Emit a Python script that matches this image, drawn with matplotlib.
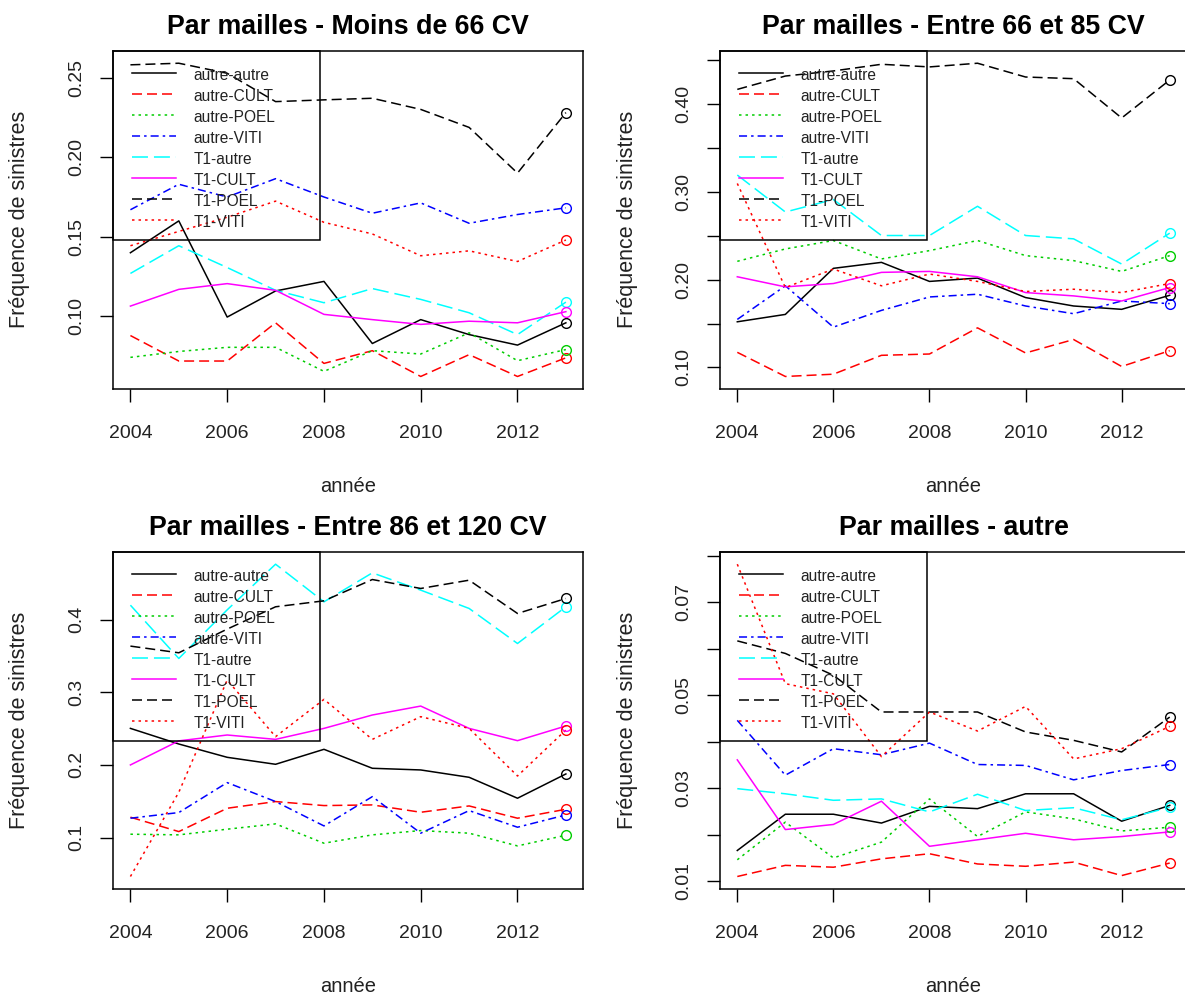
import matplotlib
matplotlib.use("Agg")
import matplotlib.pyplot as plt
from matplotlib.patches import Rectangle
import numpy as np

plt.rcParams['font.family'] = ['Liberation Sans', 'DejaVu Sans']
plt.rcParams['lines.scale_dashes'] = False

# ---------------------------------------------------------------- data
years = [2004, 2005, 2006, 2007, 2008, 2009, 2010, 2011, 2012, 2013]
year_ticks = [2004, 2006, 2008, 2010, 2012]

series_names = ["autre-autre", "autre-CULT", "autre-POEL", "autre-VITI",
                "T1-autre", "T1-CULT", "T1-POEL", "T1-VITI"]

titles = ["Par mailles - Moins de 66 CV",
          "Par mailles - Entre 66 et 85 CV",
          "Par mailles - Entre 86 et 120 CV",
          "Par mailles - autre"]

# claim frequency per year, one row per series (same order as series_names)
freq_moins_66 = [
    [0.140, 0.160, 0.0996, 0.116, 0.122, 0.083, 0.098, 0.0886, 0.082, 0.096],
    [0.088, 0.072, 0.072, 0.096, 0.0705, 0.0785, 0.0623, 0.076, 0.0623, 0.074],
    [0.0743, 0.078, 0.0806, 0.0806, 0.0655, 0.0785, 0.0764, 0.0897, 0.0722, 0.0792],
    [0.167, 0.183, 0.175, 0.1865, 0.175, 0.1648, 0.1713, 0.1585, 0.164, 0.1682],
    [0.127, 0.1444, 0.1307, 0.1164, 0.1086, 0.1175, 0.1107, 0.1023, 0.0886, 0.109],
    [0.1065, 0.117, 0.1206, 0.1164, 0.1013, 0.098, 0.095, 0.097, 0.096, 0.103],
    [0.258, 0.259, 0.2527, 0.2349, 0.236, 0.237, 0.230, 0.2187, 0.190, 0.228],
    [0.1444, 0.1534, 0.1623, 0.1724, 0.1591, 0.1518, 0.1381, 0.1412, 0.1345, 0.148],
]

freq_66_85 = [
    [0.152, 0.1604, 0.2129, 0.2197, 0.198, 0.2018, 0.1796, 0.170, 0.1662, 0.1822],
    [0.1172, 0.0897, 0.0923, 0.1138, 0.1153, 0.1451, 0.1165, 0.1318, 0.1011, 0.1191],
    [0.2209, 0.235, 0.2446, 0.2236, 0.2331, 0.2446, 0.2274, 0.2217, 0.2094, 0.2274],
    [0.1547, 0.193, 0.1459, 0.165, 0.1803, 0.1834, 0.170, 0.1612, 0.1757, 0.1727],
    [0.3192, 0.2771, 0.2913, 0.2503, 0.2503, 0.2836, 0.2503, 0.2465, 0.2178, 0.253],
    [0.2033, 0.1918, 0.1956, 0.2083, 0.2094, 0.2033, 0.1853, 0.1815, 0.1757, 0.191],
    [0.4168, 0.432, 0.4378, 0.4454, 0.4424, 0.4466, 0.4309, 0.429, 0.3842, 0.4275],
    [0.3096, 0.191, 0.2121, 0.193, 0.2064, 0.198, 0.1865, 0.1891, 0.1853, 0.1956],
]

freq_86_120 = [
    [0.2502, 0.2287, 0.2104, 0.2008, 0.2214, 0.1953, 0.193, 0.1829, 0.1541, 0.1875],
    [0.128, 0.1082, 0.1403, 0.1495, 0.144, 0.1449, 0.1348, 0.1435, 0.1266, 0.1389],
    [0.1046, 0.1037, 0.1115, 0.1188, 0.0922, 0.1037, 0.1096, 0.106, 0.0885, 0.1032],
    [0.1266, 0.1344, 0.1756, 0.1495, 0.116, 0.1563, 0.106, 0.1371, 0.1142, 0.1311],
    [0.4197, 0.3464, 0.4133, 0.4761, 0.4243, 0.4642, 0.4404, 0.4152, 0.367, 0.4175],
    [0.1999, 0.233, 0.2411, 0.2351, 0.2502, 0.2686, 0.2809, 0.2502, 0.2333, 0.2535],
    [0.3634, 0.3542, 0.3868, 0.4175, 0.4257, 0.455, 0.4427, 0.4541, 0.4083, 0.4289],
    [0.0464, 0.1623, 0.3167, 0.2388, 0.2901, 0.2351, 0.2663, 0.2502, 0.1847, 0.248],
]

freq_autre = [
    [0.0166, 0.0244, 0.0244, 0.0225, 0.0261, 0.0256, 0.0288, 0.0288, 0.0229, 0.0263],
    [0.011, 0.0134, 0.013, 0.0148, 0.0159, 0.0137, 0.0132, 0.0141, 0.0112, 0.0139],
    [0.0146, 0.0227, 0.015, 0.0184, 0.0277, 0.0196, 0.0249, 0.0234, 0.0208, 0.0216],
    [0.0446, 0.0328, 0.0385, 0.0372, 0.0397, 0.0351, 0.0349, 0.0318, 0.0338, 0.0351],
    [0.0299, 0.0288, 0.0274, 0.0277, 0.0249, 0.0287, 0.0252, 0.0258, 0.0232, 0.0259],
    [0.0361, 0.0211, 0.0222, 0.0272, 0.0175, 0.0189, 0.0203, 0.0189, 0.0196, 0.0206],
    [0.0617, 0.059, 0.0543, 0.0464, 0.0464, 0.0464, 0.0421, 0.0403, 0.0378, 0.0453],
    [0.0782, 0.0525, 0.0503, 0.0368, 0.0464, 0.0423, 0.0476, 0.0363, 0.0385, 0.0433],
]

# y ticks and their printed labels for each panel ('' = tick without label)
yticks_moins_66 = [0.10, 0.15, 0.20, 0.25]
ylabels_moins_66 = ["0.10", "0.15", "0.20", "0.25"]
yticks_66_85 = [0.10, 0.15, 0.20, 0.25, 0.30, 0.35, 0.40, 0.45]
ylabels_66_85 = ["0.10", "", "0.20", "", "0.30", "", "0.40", ""]
yticks_86_120 = [0.1, 0.2, 0.3, 0.4]
ylabels_86_120 = ["0.1", "0.2", "0.3", "0.4"]
yticks_autre = [0.01, 0.02, 0.03, 0.04, 0.05, 0.06, 0.07, 0.08]
ylabels_autre = ["0.01", "", "0.03", "", "0.05", "", "0.07", ""]

# ---------------------------------------------------------------- styles
DASHED = (0, (7.2, 3.6))
DOTTED = (0, (1.8, 2.9))
DOTDASH = (0, (5.8, 2.9, 1.8, 2.9))
LONGDASH = (0, (11.5, 4.3))
line_styles = ["solid", DASHED, DOTTED, DOTDASH, LONGDASH, "solid", DASHED, DOTTED]
line_colors = ["black", "#FF0000", "#00CD00", "#0000FF", "#00FFFF", "#FF00FF",
               "black", "#FF0000"]
LW = 1.1

W, H = 1185, 994
fig = plt.figure(figsize=(W / 100, H / 100), dpi=100)


def add_panel(left, top, right, bottom):
    return fig.add_axes([left / W, 1 - bottom / H, (right - left) / W, (bottom - top) / H])


panels = [
    (add_panel(113, 50.7, 583.3, 389), freq_moins_66, yticks_moins_66, ylabels_moins_66),
    (add_panel(720, 50.7, 1187, 389), freq_66_85, yticks_66_85, ylabels_66_85),
    (add_panel(113, 551.7, 583.3, 889), freq_86_120, yticks_86_120, ylabels_86_120),
    (add_panel(720, 551.7, 1187, 889), freq_autre, yticks_autre, ylabels_autre),
]


def draw_legend(ax):
    bb = ax.get_position()
    w_px, h_px = bb.width * W, bb.height * H
    fx = lambda p: p / w_px
    fy = lambda p: 1 - p / h_px
    box_w, box_h = 206.5, 189.3
    ax.add_patch(Rectangle((0, fy(box_h)), fx(box_w), box_h / h_px,
                           transform=ax.transAxes, fill=False, ec="black",
                           lw=1.1, clip_on=False, zorder=5))
    for i, name in enumerate(series_names):
        y_line = 22.0 + i * 21.0
        ax.plot([fx(18.5), fx(62.5)], [fy(y_line), fy(y_line)],
                transform=ax.transAxes, color=line_colors[i],
                linestyle=line_styles[i], lw=LW, zorder=6, clip_on=False)
        ax.text(fx(80.3), fy(y_line + 2.5), name, transform=ax.transAxes,
                ha="left", va="center", fontsize=11.2, color="#222222", zorder=6)


for (ax, data, yt, yl), title in zip(panels, titles):
    for i, vals in enumerate(data):
        ax.plot(years, vals, color=line_colors[i], linestyle=line_styles[i],
                lw=LW, zorder=3)
        ax.plot(years[-1], vals[-1], marker="o", ms=7, mfc="none",
                mec=line_colors[i], mew=1.0, linestyle="none", zorder=4)

    # R-style 4 % range extension
    lo, hi = np.min(data), np.max(data)
    pad = 0.04 * (hi - lo)
    ax.set_ylim(lo - pad, hi + pad)
    xpad = 0.04 * (years[-1] - years[0])
    ax.set_xlim(years[0] - xpad, years[-1] + xpad)

    ax.set_xticks(year_ticks)
    ax.set_xticklabels([str(y) for y in year_ticks])
    ax.set_yticks(yt)
    ax.set_yticklabels(yl, rotation=90, va="center")
    ax.tick_params(length=9.7, width=1.0, labelsize=14, color="black",
                   labelcolor="#222222")
    ax.tick_params(axis="x", pad=16)
    ax.tick_params(axis="y", pad=10)

    for s in ax.spines.values():
        s.set_linewidth(1.1)
        s.set_color("black")

    ax.set_xlabel("année", fontsize=14.5, color="#222222")
    ax.xaxis.label.set_va("center")
    ax.xaxis.set_label_coords(0.5, -98 / 338.3)
    ax.set_ylabel("Fréquence de sinistres", fontsize=15.5, color="#222222")
    ax.yaxis.label.set_va("center")
    ax.yaxis.set_label_coords(-93 / (ax.get_position().width * W), 0.5)

    ax.text(0.5, 1 + 24 / 338.3, title, transform=ax.transAxes, ha="center",
            va="center", fontsize=19.3, fontweight="bold")

    draw_legend(ax)

fig.savefig("out.png", dpi=100)
